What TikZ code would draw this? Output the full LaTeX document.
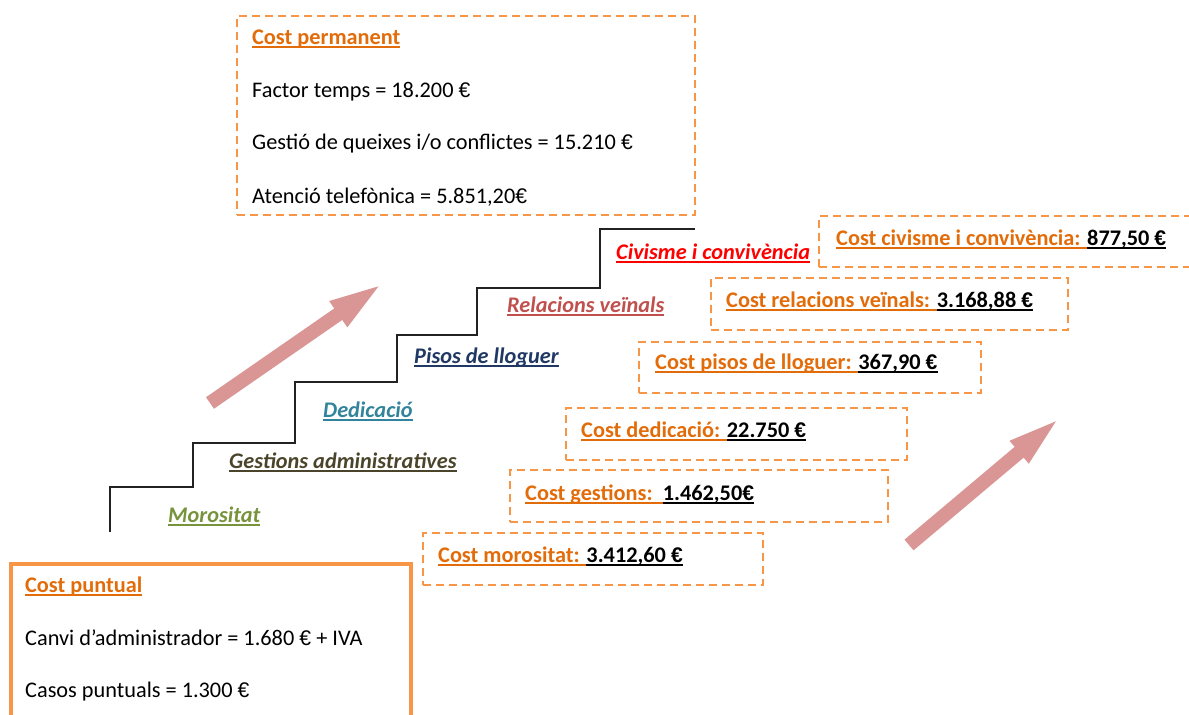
\documentclass[tikz,border=0pt]{standalone}
\usepackage{fontspec}
\setmainfont{Carlito}
\newfontfamily\eurfont{Liberation Sans}
\newcommand\EUR{{\eurfont\scalebox{0.95}{€}}}
\definecolor{otext}{HTML}{E36C0A}
\definecolor{oline}{HTML}{F79646}
\definecolor{arrowc}{HTML}{D99694}
\definecolor{cmoro}{HTML}{77933C}
\definecolor{cgest}{HTML}{4A452A}
\definecolor{cdedi}{HTML}{31849B}
\definecolor{cpiso}{HTML}{1F3864}
\definecolor{crela}{HTML}{C0504D}
\definecolor{cciv}{HTML}{FF0000}
\definecolor{stairc}{HTML}{222222}
\newcommand\uln[1]{\setbox0\hbox{#1}\rlap{\rule[-4pt]{\wd0}{1.7pt}}\box0}
\tikzset{
  txt/.style={anchor=base west, inner sep=0pt, font=\fontsize{22.3}{27}\selectfont},
  ttl/.style={txt, text=otext, font=\fontsize{22.3}{27}\selectfont\bfseries},
  stl/.style={txt, font=\fontsize{22.3}{27}\selectfont\bfseries\itshape},
  cst/.style={txt, font=\fontsize{22.3}{27}\selectfont\bfseries},
  dbox/.style={draw=oline, line width=2pt, dash pattern=on 8pt off 5pt, anchor=north west, inner sep=0pt},
  fatarrow/.style={fill=arrowc, draw=none},
}
\begin{document}
\begin{tikzpicture}[x=1pt, y=-1pt]
\path[use as bounding box] (0,0) rectangle (1189,715);
\clip (0,0) rectangle (1189,715);

% top box: permanent cost
\node[dbox, minimum width=458pt, minimum height=199pt] (perm) at (236,15) {};
\node[ttl] (permt) at (252,44) {\uln{Cost permanent}};
\node[txt] (perm1) at (252,97) {Factor temps = 18.200 \EUR};
\node[txt] (perm2) at (252,149) {Gestió de queixes i/o conflictes = 15.210 \EUR};
\node[txt] (perm3) at (252,203) {Atenció telefònica = 5.851,20\EUR};

% bottom box: punctual cost
\node[draw=oline, line width=4pt, anchor=north west, inner sep=0pt, minimum width=400pt, minimum height=180pt] (punt) at (9,562) {};
\node[ttl] (puntt) at (25,592) {\uln{Cost puntual}};
\node[txt] (punt1) at (25,645) {Canvi d’administrador = 1.680 \EUR{} + IVA};
\node[txt] (punt2) at (25,697) {Casos puntuals = 1.300 \EUR};

% staircase
\draw[stairc, line width=2pt] (110,532) -- (110,487) -- (193,487) -- (193,443) -- (295,443) -- (295,382) -- (397,382) -- (397,335) -- (477,335) -- (477,288) -- (600,288) -- (600,229) -- (695,229);

% stair labels
\node[stl, text=cmoro] (lmoro) at (168,522) {\uln{Morositat}};
\node[stl, text=cgest] (lgest) at (229,468) {\uln{Gestions administratives}};
\node[stl, text=cdedi] (ldedi) at (323,417) {\uln{Dedicació}};
\node[stl, text=cpiso] (lpiso) at (414,363) {\uln{Pisos de lloguer}};
\node[stl, text=crela] (lrela) at (507,312) {\uln{Relacions veïnals}};
\node[stl, text=cciv] (lciv) at (616,259) {\uln{Civisme i convivència}};

% cost boxes
\node[dbox, minimum width=382pt, minimum height=51pt] (bciv) at (818,215) {};
\node[cst] (tciv) at (836,245) {\textcolor{otext}{\uln{Cost civisme i convivència: }}\uln{877,50 \EUR}};
\node[dbox, minimum width=357pt, minimum height=52pt] (brela) at (710,277) {};
\node[cst] (trela) at (726,307) {\textcolor{otext}{\uln{Cost relacions veïnals: }}\uln{3.168,88 \EUR}};
\node[dbox, minimum width=342pt, minimum height=51pt] (bpiso) at (638,341) {};
\node[cst] (tpiso) at (655,369) {\textcolor{otext}{\uln{Cost pisos de lloguer: }}\uln{367,90 \EUR}};
\node[dbox, minimum width=341pt, minimum height=52pt] (bdedi) at (565,407) {};
\node[cst] (tdedi) at (581,437) {\textcolor{otext}{\uln{Cost dedicació: }}\uln{22.750 \EUR}};
\node[dbox, minimum width=378pt, minimum height=52pt] (bgest) at (509,469) {};
\node[cst] (tgest) at (525,500) {\textcolor{otext}{\uln{Cost gestions:\ \ }}\uln{1.462,50\EUR}};
\node[dbox, minimum width=340pt, minimum height=52pt] (bmoro) at (422,532) {};
\node[cst] (tmoro) at (438,562) {\textcolor{otext}{\uln{Cost morositat: }}\uln{3.412,60 \EUR}};

% block arrows
\begin{scope}[shift={(210,403)}, rotate=34.7]
\fill[fatarrow] (0,-7) -- (156,-7) -- (156,-16) -- (205,0) -- (156,16) -- (156,7) -- (0,7) -- cycle;
\end{scope}
\begin{scope}[shift={(909,545)}, rotate=40.1]
\fill[fatarrow] (0,-7) -- (144,-7) -- (144,-15) -- (192,0) -- (144,15) -- (144,7) -- (0,7) -- cycle;
\end{scope}
\end{tikzpicture}
\end{document}
